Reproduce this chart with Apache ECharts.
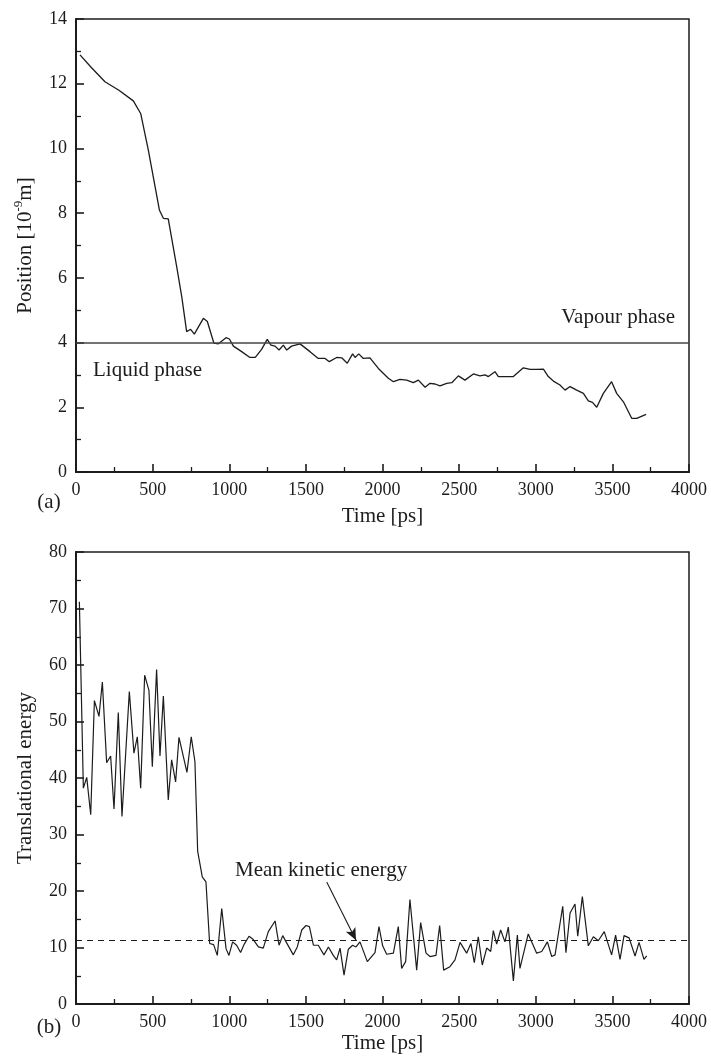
<!DOCTYPE html>
<html>
<head>
<meta charset="utf-8">
<script src="https://cdn.jsdelivr.net/npm/echarts@6/dist/echarts.min.js"></script>
<style>
html,body{margin:0;padding:0;background:#fff;}
#chart{width:711px;height:1063px;}
</style>
</head>
<body>
<div id="chart"></div>
<script>
// ---- Data ----
const posTime = [26,100,189,280,374,422,472,544,570,602,657,690,722,748,772,831,857,900,929,979,1001,1027,1081,1135,1170,1211,1248,1272,1299,1325,1353,1375,1407,1462,1527,1581,1625,1653,1701,1734,1770,1805,1821,1845,1875,1918,1973,2038,2071,2114,2158,2201,2234,2278,2310,2343,2375,2419,2452,2495,2538,2593,2636,2669,2691,2734,2756,2810,2854,2919,2963,3006,3050,3082,3115,3158,3191,3224,3267,3311,3343,3370,3398,3441,3495,3528,3572,3626,3659,3720];
const posValue = [12.89,12.5,12.06,11.8,11.47,11.08,9.95,8.10,7.84,7.82,6.35,5.42,4.34,4.41,4.26,4.75,4.65,3.98,3.96,4.15,4.11,3.89,3.72,3.54,3.54,3.79,4.10,3.92,3.89,3.77,3.92,3.77,3.89,3.96,3.72,3.51,3.51,3.41,3.54,3.53,3.36,3.65,3.54,3.65,3.51,3.53,3.20,2.90,2.79,2.86,2.84,2.76,2.84,2.62,2.74,2.72,2.66,2.74,2.76,2.97,2.84,3.03,2.97,3.00,2.95,3.10,2.95,2.95,2.95,3.22,3.17,3.17,3.18,2.95,2.81,2.69,2.53,2.64,2.53,2.43,2.2,2.15,2.00,2.43,2.79,2.43,2.17,1.66,1.66,1.78];
const phaseBoundary = 4.0;

const energyTime = [22,48,70,96,120,150,172,200,226,248,276,300,348,378,400,422,448,476,498,526,548,570,602,624,650,672,724,752,776,794,824,848,872,898,922,951,979,998,1022,1048,1074,1098,1129,1157,1190,1222,1255,1299,1325,1349,1379,1418,1444,1473,1501,1523,1549,1581,1618,1647,1679,1701,1723,1749,1777,1805,1827,1853,1901,1951,1977,2001,2027,2071,2103,2125,2151,2179,2223,2249,2284,2310,2349,2373,2399,2440,2473,2506,2549,2577,2599,2625,2651,2680,2706,2723,2745,2771,2799,2821,2854,2880,2897,2951,3006,3039,3076,3104,3126,3176,3197,3224,3256,3274,3304,3343,3376,3408,3447,3495,3521,3550,3576,3609,3648,3674,3706,3724];
const energyValue = [71.2,38.2,40.1,33.5,53.7,50.9,57.0,42.7,43.9,34.5,51.6,33.2,55.3,44.4,47.3,38.2,58.2,55.5,42.0,59.2,43.9,54.5,36.1,43.2,39.3,47.2,41.0,47.3,42.9,27.0,22.5,21.6,10.7,10.5,8.6,16.9,9.8,8.6,11.0,10.4,9.1,10.6,12.0,11.4,10.1,9.9,12.8,14.7,10.4,12.1,10.6,8.7,10.1,13.1,13.9,13.7,10.4,10.4,8.7,10.1,8.6,7.8,9.9,5.1,9.7,10.4,10.1,11.0,7.5,9.1,13.7,10.3,8.8,9.0,13.7,6.3,7.5,18.5,6.0,14.4,9.0,8.4,8.6,13.9,6.0,6.6,7.8,10.9,9.0,10.7,7.3,11.9,6.9,9.9,9.3,13.0,10.6,13.1,11.0,13.6,4.1,12.2,6.3,12.4,9.0,9.3,11.0,8.4,8.7,17.3,9.1,16.1,17.7,12.0,19.0,10.3,11.9,11.2,12.8,8.7,12.2,7.9,12.1,11.7,8.5,10.9,7.9,8.5];
const meanEnergy = 11.3;
const arrowFrom = [1636, 21.6];
const arrowTo = [1827, 11.3];

// ---- Styling ----
const FONT = '"Liberation Serif", "Times New Roman", serif';
const INK = '#1c1c1c';
const plain = v => String(v);

function xAxisCfg(gridIndex, gap) {
  return {
    type: 'value', gridIndex, min: 0, max: 4000, interval: 500,
    name: 'Time [ps]', nameLocation: 'middle', nameGap: gap,
    nameTextStyle: {fontFamily: FONT, fontSize: 21, color: INK},
    axisLine: {show: true, onZero: false, lineStyle: {color: INK, width: 2}},
    axisTick: {show: true, inside: true, length: 8, lineStyle: {color: INK, width: 1.6}},
    minorTick: {show: true, splitNumber: 2, length: 5, lineStyle: {color: INK, width: 1.3}},
    splitLine: {show: false},
    axisLabel: {fontFamily: FONT, fontSize: 18, color: INK, margin: 9, formatter: plain}
  };
}
function yAxisCfg(gridIndex, max, interval, name, rich) {
  return {
    type: 'value', gridIndex, min: 0, max, interval,
    name, nameLocation: 'middle', nameRotate: 90, nameGap: 36,
    nameTextStyle: {fontFamily: FONT, fontSize: 21, color: INK, lineHeight: 26, rich: rich || {}},
    axisLine: {show: true, onZero: false, lineStyle: {color: INK, width: 2}},
    axisTick: {show: true, inside: true, length: 8, lineStyle: {color: INK, width: 1.6}},
    minorTick: {show: true, splitNumber: 2, length: 5, lineStyle: {color: INK, width: 1.3}},
    splitLine: {show: false},
    axisLabel: {fontFamily: FONT, fontSize: 18, color: INK, margin: 9, formatter: plain}
  };
}

const chart = echarts.init(document.getElementById('chart'), null, {renderer: 'canvas'});
const option = {
  backgroundColor: '#ffffff',
  animation: false,
  grid: [
    {left: 76, top: 19, width: 613, height: 453, show: true, borderColor: INK, borderWidth: 1.5, backgroundColor: 'transparent'},
    {left: 76, top: 552, width: 613, height: 452, show: true, borderColor: INK, borderWidth: 1.5, backgroundColor: 'transparent'}
  ],
  xAxis: [xAxisCfg(0, 34), xAxisCfg(1, 29)],
  yAxis: [
    yAxisCfg(0, 14, 2, 'Position [10{sup|-9}m]', {
      sup: {fontFamily: FONT, fontSize: 13, color: INK, verticalAlign: 'top', lineHeight: 14}
    }),
    yAxisCfg(1, 80, 10, 'Translational energy')
  ],
  series: [
    {
      type: 'line', xAxisIndex: 0, yAxisIndex: 0, symbol: 'none',
      lineStyle: {color: INK, width: 1.3},
      data: posTime.map((t, i) => [t, posValue[i]]),
      markLine: {
        silent: true, symbol: ['none', 'none'], animation: false,
        lineStyle: {type: 'solid', color: '#444', width: 1.5},
        label: {show: false},
        data: [{yAxis: phaseBoundary}]
      }
    },
    {
      type: 'line', xAxisIndex: 1, yAxisIndex: 1, symbol: 'none',
      lineStyle: {color: INK, width: 1.2},
      data: energyTime.map((t, i) => [t, energyValue[i]]),
      markLine: {
        silent: true, animation: false, symbol: ['none', 'none'],
        label: {show: false},
        data: [
          {yAxis: meanEnergy, lineStyle: {type: [6, 5], color: INK, width: 1.2}},
          [
            {coord: arrowFrom, symbol: 'none', lineStyle: {type: 'solid', color: INK, width: 1.1}},
            {coord: arrowTo, symbol: 'arrow', symbolSize: [8, 12]}
          ]
        ]
      }
    }
  ],
  graphic: [
    {type: 'text', x: 675, y: 317, style: {text: 'Vapour phase', font: '21px ' + FONT, fill: INK, align: 'right', verticalAlign: 'middle'}},
    {type: 'text', x: 93, y: 370, style: {text: 'Liquid phase', font: '21px ' + FONT, fill: INK, align: 'left', verticalAlign: 'middle'}},
    {type: 'text', x: 235, y: 870, style: {text: 'Mean kinetic energy', font: '21px ' + FONT, fill: INK, align: 'left', verticalAlign: 'middle'}},
    {type: 'text', x: 49, y: 502, style: {text: '(a)', font: '21px ' + FONT, fill: INK, align: 'center', verticalAlign: 'middle'}},
    {type: 'text', x: 49, y: 1027, style: {text: '(b)', font: '21px ' + FONT, fill: INK, align: 'center', verticalAlign: 'middle'}}
  ]
};
chart.setOption(option);
</script>
</body>
</html>
